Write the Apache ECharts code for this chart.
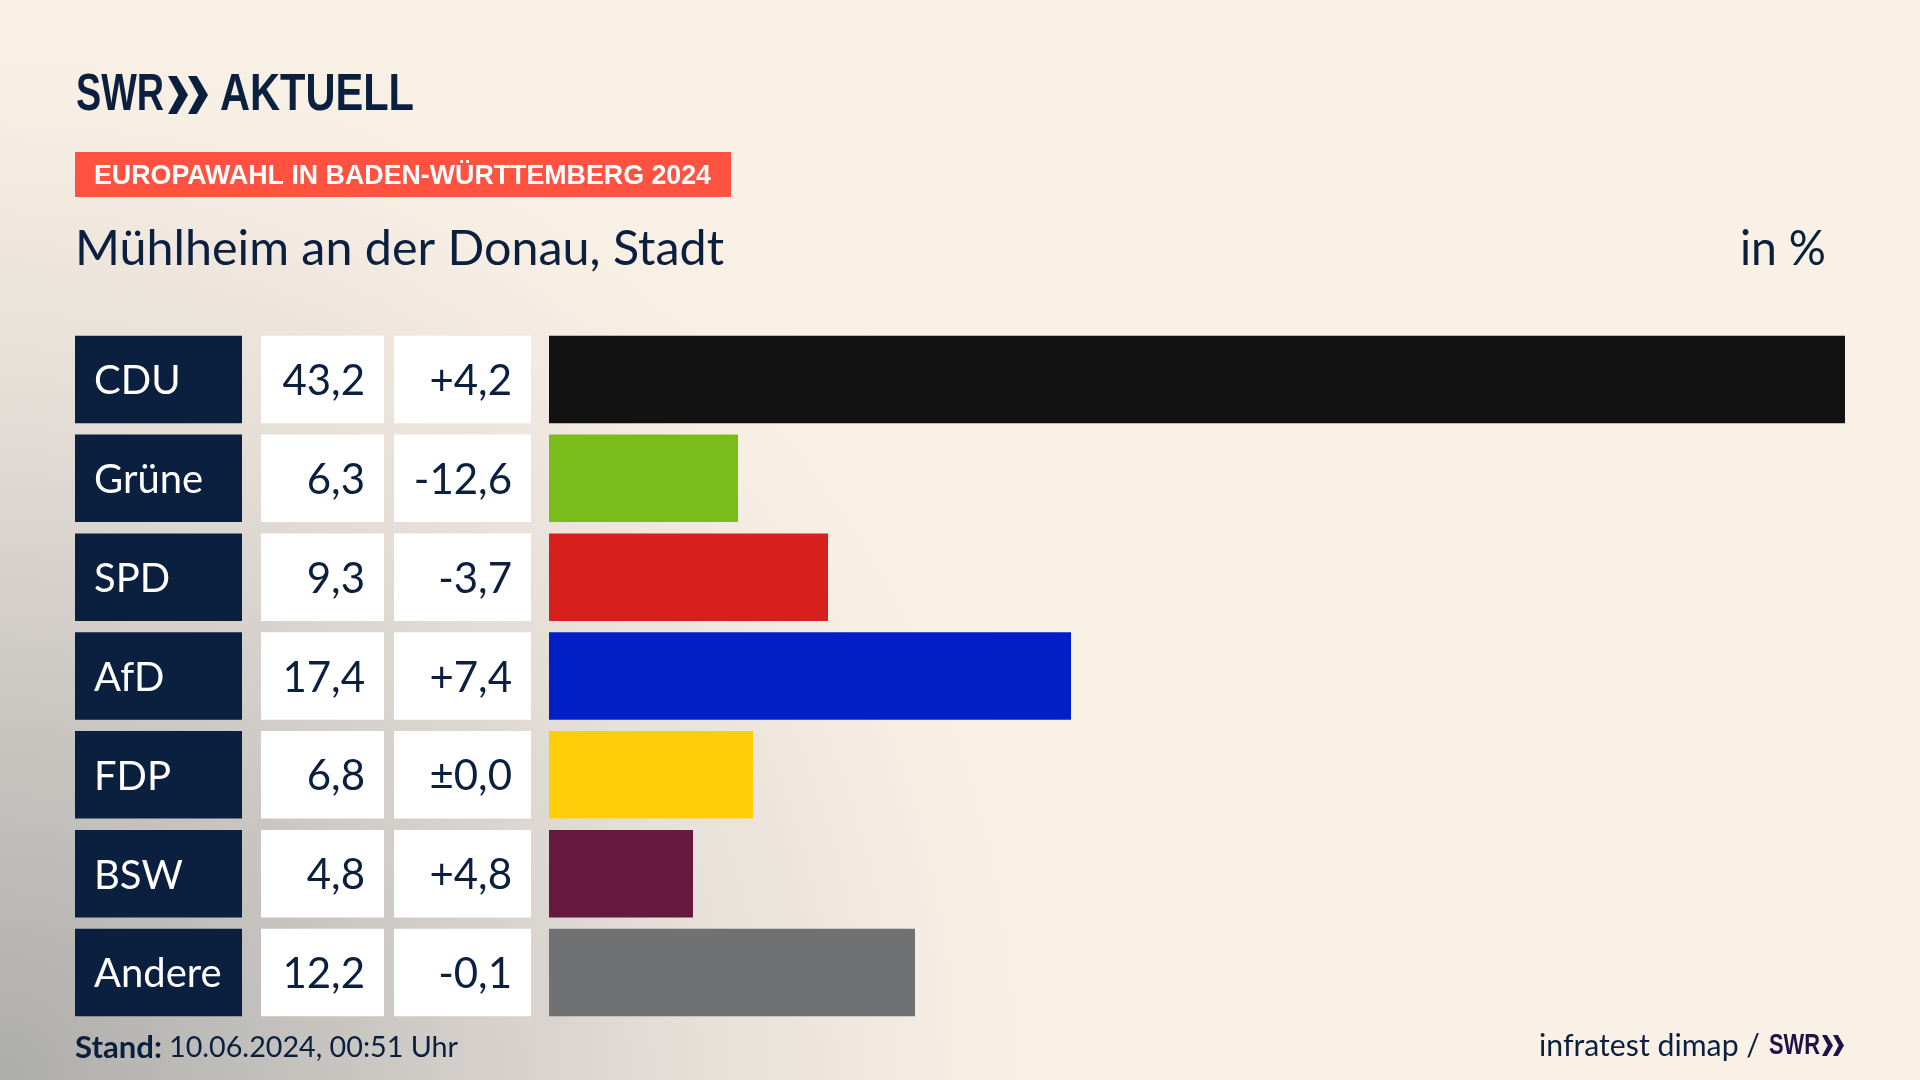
<!DOCTYPE html>
<html>
<head>
<meta charset="utf-8">
<title>Europawahl Baden-Württemberg 2024</title>
<script src="https://cdn.jsdelivr.net/npm/echarts@6/dist/echarts.min.js"></script>
<style>
  html, body { margin: 0; padding: 0; background: #faf1e6; }
  #main { width: 1920px; height: 1080px; }
</style>
</head>
<body>
<div id="main"></div>
<script>
// Werte
const parties = ['CDU', 'Grüne', 'SPD', 'AfD', 'FDP', 'BSW', 'Andere']
const shares = [43.2, 6.3, 9.3, 17.4, 6.8, 4.8, 12.2]
const shareLabels = ['43,2', '6,3', '9,3', '17,4', '6,8', '4,8', '12,2']
const diffLabels = ['+4,2', '-12,6', '-3,7', '+7,4', '±0,0', '+4,8', '-0,1']
const barColors = ['#121212', '#7abd1a', '#d7201e', '#001fc7', '#ffcd0a', '#65193c', '#707173']

const NAVY = '#0b1f3f'
const FONT = 'Lato'
const LOGO = '"Liberation Sans"'
const GRID_TOP = 330
const GRID_H = 692
const ROW_H = 87.5

const chart = echarts.init(document.getElementById('main'))
const measure = document.createElement('canvas').getContext('2d')

// linke Spalten und Balken bekommen je ein eigenes grid
const columns = [
  {left: 75, width: 167},
  {left: 261, width: 123},
  {left: 394, width: 137},
  {left: 549, width: 1296}
]
const grids = columns.map(c => ({left: c.left, width: c.width, top: GRID_TOP, height: GRID_H}))
const xAxes = columns.map((c, i) => ({
  gridIndex: i, type: 'value', min: 0, max: i === 3 ? 43.2 : 1, show: false
}))
const yAxes = columns.map((c, i) => ({
  gridIndex: i, type: 'category', inverse: true, data: parties, show: false
}))

function cellSeries(idx, color, texts, textColor, position, distance, size) {
  return {
    type: 'bar',
    xAxisIndex: idx,
    yAxisIndex: idx,
    barWidth: ROW_H,
    silent: true,
    itemStyle: {color: color},
    data: parties.map(() => 1),
    label: {
      show: true,
      position: position,
      distance: distance,
      offset: [0, 2],
      color: textColor,
      fontFamily: FONT,
      fontSize: size,
      formatter: p => texts[p.dataIndex]
    }
  }
}

function chevrons(x, y, h, w, color) {
  // doppelter Pfeil aus dem SWR Logo
  const two = x0 => ({
    type: 'polygon',
    shape: {points: [[x0, y], [x0 + w * 0.22, y], [x0 + w * 0.5, y + h / 2], [x0 + w * 0.22, y + h], [x0, y + h], [x0 + w * 0.26, y + h / 2]]},
    style: {fill: color}
  })
  return [two(x), two(x + w * 0.5)]
}

// Text auf die Breite aus dem Bild stauchen
function fit(text, x, y, font, fill, width, align) {
  measure.font = font
  return {
    type: 'text',
    x: x, y: y,
    scaleX: width / measure.measureText(text).width,
    style: {text: text, x: 0, y: 0, font: font, fill: fill, textAlign: align || 'left', textVerticalAlign: 'middle'}
  }
}

const bgGradient = new echarts.graphic.RadialGradient(0, 1080, 1150, [
  {offset: 0, color: '#adadab'},
  {offset: 0.3, color: '#c8c5c1'},
  {offset: 0.6, color: '#e6dfd8'},
  {offset: 0.85, color: '#f7eee4'},
  {offset: 1, color: '#faf1e6'}
], true)

chart.setOption({
  animation: false,
  backgroundColor: '#faf1e6',
  grid: grids,
  xAxis: xAxes,
  yAxis: yAxes,
  series: [
    cellSeries(0, NAVY, parties, '#ffffff', 'insideLeft', 19, 40),
    cellSeries(1, '#ffffff', shareLabels, NAVY, 'insideRight', 19, 42),
    cellSeries(2, '#ffffff', diffLabels, NAVY, 'insideRight', 19, 42),
    {
      type: 'bar',
      xAxisIndex: 3,
      yAxisIndex: 3,
      barWidth: ROW_H,
      silent: true,
      data: shares.map((v, i) => ({value: v, itemStyle: {color: barColors[i]}}))
    }
  ],
  graphic: [
    {type: 'rect', z: -1, silent: true, shape: {x: 0, y: 0, width: 1920, height: 1080}, style: {fill: bgGradient}},
    fit('SWR', 76, 96, 'bold 52px ' + LOGO, NAVY, 88),
    ...chevrons(168, 76, 38, 40, NAVY),
    fit('AKTUELL', 220, 96, 'bold 52px ' + LOGO, NAVY, 194),
    {type: 'rect', shape: {x: 75, y: 152, width: 656, height: 45}, style: {fill: '#ff5240'}},
    fit('EUROPAWAHL IN BADEN-WÜRTTEMBERG 2024', 94, 176, 'bold 28px ' + LOGO, '#ffffff', 617),
    fit('Mühlheim an der Donau, Stadt', 75, 249, '49px ' + FONT, NAVY, 649),
    fit('in %', 1826, 249, '49px ' + FONT, NAVY, 86, 'right'),
    fit('Stand:', 75, 1048, 'bold 30px ' + FONT, NAVY, 87),
    fit('10.06.2024, 00:51 Uhr', 169, 1048, '29px ' + FONT, NAVY, 289),
    fit('infratest dimap /', 1760, 1046, '30px ' + FONT, NAVY, 221, 'right'),
    fit('SWR', 1769, 1046, 'bold 30px ' + LOGO, '#22104a', 51),
    ...chevrons(1822, 1035, 21, 22, '#22104a')
  ]
})
</script>
</body>
</html>
